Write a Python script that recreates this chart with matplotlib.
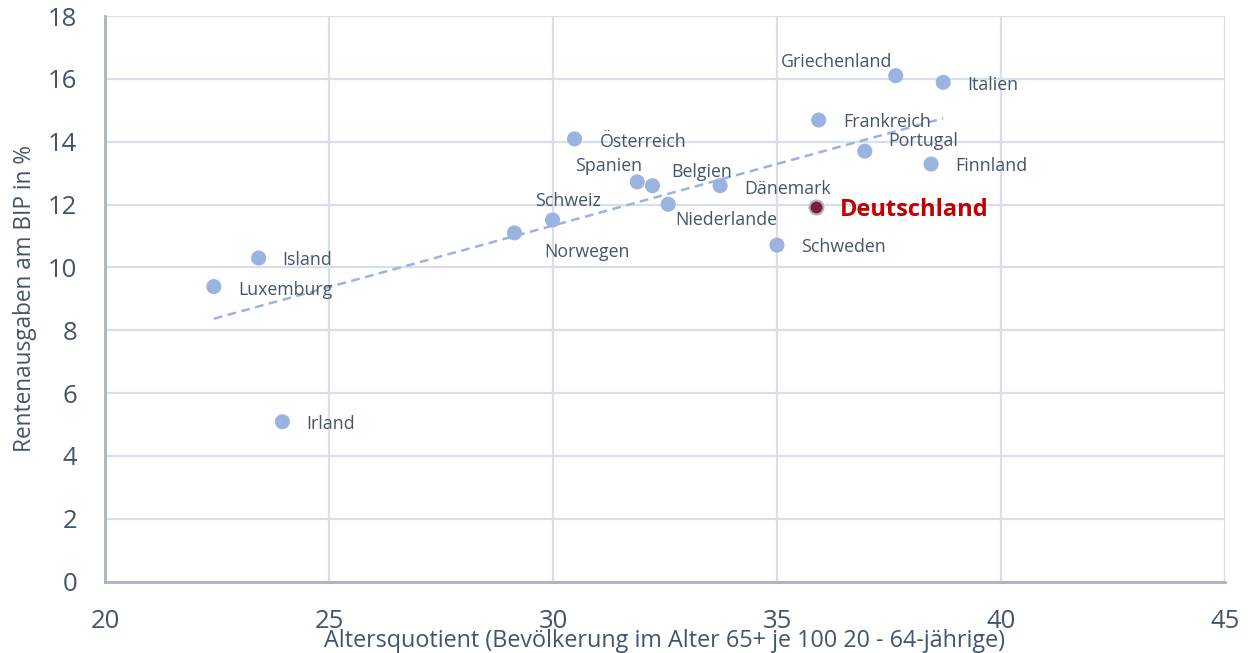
import numpy as np
import matplotlib
matplotlib.use("Agg")
import matplotlib.pyplot as plt

# ─── data ─────────────────────────────────────────────────────────────────────
countries = ["Luxemburg", "Island", "Irland", "Norwegen", "Schweiz", "Österreich",
             "Spanien", "Belgien", "Niederlande", "Dänemark", "Schweden",
             "Deutschland", "Frankreich", "Griechenland", "Italien", "Portugal",
             "Finnland"]
altersquotient = [22.43, 23.43, 23.96, 29.14, 29.99, 30.48, 31.88, 32.22, 32.57,
                  33.73, 35.00, 35.86, 35.93, 37.65, 38.71, 36.96, 38.44]
rentenausgaben = [9.39, 10.30, 5.09, 11.10, 11.51, 14.09, 12.72, 12.60, 12.01,
                  12.60, 10.71, 11.91, 14.69, 16.10, 15.89, 13.70, 13.29]
highlight = "Deutschland"

x_ticks = [20, 25, 30, 35, 40, 45]
y_ticks = [0, 2, 4, 6, 8, 10, 12, 14, 16, 18]

# label placement: (dx, dy) in pixels relative to point, horizontal alignment
LABEL_POS = {
    "Luxemburg":    (24, -3, "left"),
    "Island":       (24, -2, "left"),
    "Irland":       (24, -2, "left"),
    "Norwegen":     (30, -19, "left"),
    "Schweiz":      (-17, 19, "left"),
    "Österreich":   (25, -3, "left"),
    "Spanien":      (5, 16, "right"),
    "Belgien":      (19, 14, "left"),
    "Niederlande":  (7, -16, "left"),
    "Dänemark":     (24, -3, "left"),
    "Schweden":     (24, -2, "left"),
    "Deutschland":  (24, -3, "left"),
    "Frankreich":   (25, -2, "left"),
    "Griechenland": (-3, 14, "right"),
    "Italien":      (24, -3, "left"),
    "Portugal":     (23, 10, "left"),
    "Finnland":     (24, -2, "left"),
}

TEXT_COLOR = "#44546A"
POINT_COLOR = "#9BB3E1"
GRID_COLOR = "#D9DFE8"
SPINE_COLOR = "#A8B3C3"

plt.rcParams["font.family"] = ["Open Sans", "DejaVu Sans"]

fig = plt.figure(figsize=(12.53, 6.53), dpi=100)
ax = fig.add_axes([105 / 1253, 1 - 581.7 / 653, 1120 / 1253, 565.7 / 653])

x = np.array(altersquotient)
y = np.array(rentenausgaben)

# trend line (linear fit over all countries)
slope, icpt = np.polyfit(x, y, 1)
xs = np.array([x.min(), x.max()])
ax.plot(xs, slope * xs + icpt, color=POINT_COLOR, linestyle=(0, (3.5, 2.2)),
        linewidth=1.8, zorder=2)

is_hl = np.array([c == highlight for c in countries])
ax.scatter(x[~is_hl], y[~is_hl], s=118, color=POINT_COLOR, edgecolors="none", zorder=3)
ax.scatter(x[is_hl], y[is_hl], s=100, color="#8B1A2E", edgecolors=POINT_COLOR,
           linewidths=1.5, zorder=4)

for name, xi, yi in zip(countries, x, y):
    dx, dy, ha = LABEL_POS[name]
    if name == highlight:
        ax.annotate(name, (xi, yi), xytext=(dx, dy), textcoords="offset pixels",
                    ha=ha, va="center", fontsize=17, fontweight="bold",
                    color="#C00000", zorder=5)
    else:
        ax.annotate(name, (xi, yi), xytext=(dx, dy), textcoords="offset pixels",
                    ha=ha, va="center", fontsize=12.8, color=TEXT_COLOR, zorder=5)

ax.set_xlim(20, 45)
ax.set_ylim(0, 18)
ax.set_xticks(x_ticks)
ax.set_yticks(y_ticks)
ax.tick_params(axis="both", length=0, labelsize=18.5, labelcolor=TEXT_COLOR)
ax.tick_params(axis="x", pad=20)
ax.tick_params(axis="y", pad=20)
ax.grid(True, color=GRID_COLOR, linewidth=1.6)
ax.set_axisbelow(True)

for side in ("top", "right"):
    ax.spines[side].set_visible(False)
for side in ("left", "bottom"):
    ax.spines[side].set_color(SPINE_COLOR)
    ax.spines[side].set_linewidth(2)

ax.set_xlabel("Altersquotient (Bevölkerung im Alter 65+ je 100 20 - 64-jährige)",
              fontsize=16.8, color=TEXT_COLOR, va="center")
ax.xaxis.set_label_coords(0.5, -0.105)
ax.set_ylabel("Rentenausgaben am BIP in %", fontsize=16.3, color=TEXT_COLOR, va="center")
ax.yaxis.set_label_coords(-0.0714, 0.5)

fig.savefig("out.png", dpi=100)
